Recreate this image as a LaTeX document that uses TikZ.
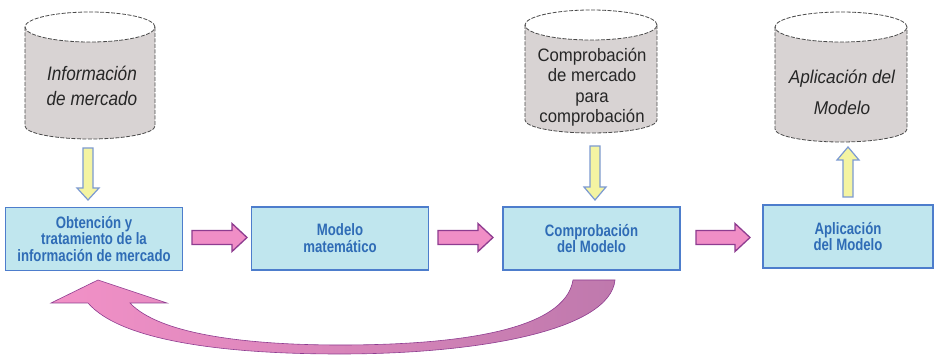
\documentclass[tikz,border=0pt]{standalone}
\usepackage{fontspec}
\setmainfont{Liberation Sans}
\newfontfamily\boxfont[FakeStretch=0.8]{Liberation Sans Bold}
\newfontfamily\cylfontA[FakeStretch=0.88]{Liberation Sans Italic}
\newfontfamily\cylfontB[FakeStretch=0.93]{Liberation Sans}
\newfontfamily\cylfontC[FakeStretch=0.93]{Liberation Sans Italic}
\usetikzlibrary{calc}
\definecolor{boxfill}{HTML}{C0E6EE}
\definecolor{boxline}{HTML}{4D7DCC}
\definecolor{boxtext}{HTML}{2F6CB6}
\definecolor{cylfill}{HTML}{D8D3D3}
\definecolor{cylline}{HTML}{4A4A4A}
\definecolor{pinkfill}{HTML}{F08EC6}
\definecolor{pinkline}{HTML}{8E3C90}
\definecolor{yelfill}{HTML}{F4F4A2}
\definecolor{yelline}{HTML}{7C9AD2}
\definecolor{curveleft}{HTML}{F291C7}
\definecolor{curveright}{HTML}{BF79AD}
\newcommand\mycyl[4]{%
  \fill[cylfill] (#1-#2,#3) rectangle (#1+#2,#4);
  \fill[cylfill] (#1,#4) ellipse [x radius=#2pt, y radius=13pt];
  \fill[white] (#1,#3) ellipse [x radius=#2pt, y radius=15pt];
  \draw[cylborder] (#1,#3) ellipse [x radius=#2pt, y radius=15pt];
  \draw[cylborder] (#1-#2,#3) -- (#1-#2,#4) arc[start angle=180,end angle=360,x radius=#2pt,y radius=13pt] -- (#1+#2,#3);
}
% vertical block arrow: x, tail y, tip y, head base y
\newcommand\myvarrow[4]{%
  \draw[yelarrow] (#1-5,#2) -- (#1-5,#4) -- (#1-11,#4) -- (#1,#3) -- (#1+11,#4) -- (#1+5,#4) -- (#1+5,#2) -- cycle;
}
% horizontal block arrow: tail x, tip x, y
\newcommand\myharrow[3]{%
  \draw[pinkarrow] (#1,#3-7) -- (#2-15,#3-7) -- (#2-15,#3-14) -- (#2,#3) -- (#2-15,#3+14) -- (#2-15,#3+7) -- (#1,#3+7) -- cycle;
}
\begin{document}
\begin{tikzpicture}[x=1pt,y=-1pt,
  stagebox/.style={draw=boxline, line width=1.6pt, fill=boxfill, minimum width=177pt, minimum height=63pt, inner sep=0pt, align=center, text=boxtext, font=\boxfont\fontsize{16.5}{16.8}\selectfont},
  cyltext/.style={align=center, inner sep=0pt, text=black!85},
  cylborder/.style={draw=cylline, line width=0.8pt, dash pattern=on 4pt off 1.5pt},
  yelarrow/.style={draw=yelline, line width=1.2pt, fill=yelfill, line join=miter},
  pinkarrow/.style={draw=pinkline, line width=1.3pt, fill=pinkfill, line join=miter},
]
\useasboundingbox (0,0) rectangle (937,355);
\fill[white] (0,0) rectangle (937,355);

% cylinders
\mycyl{90}{65}{27}{126}
\mycyl{591}{66}{25}{120}
\mycyl{841}{66}{27}{129}

\node[cyltext, font=\cylfontA\fontsize{19.5}{25}\selectfont] (cyl1) at (92,86) {Información\\de mercado};
\node[cyltext, font=\cylfontB\fontsize{18}{20.5}\selectfont] (cyl2) at (592,87) {Comprobación\\de mercado\\para\\comprobación};
\node[cyltext, font=\cylfontC\fontsize{18.5}{31}\selectfont] (cyl3) at (842,92) {Aplicación del\\Modelo};

% boxes
\node[stagebox] (b1) at (94,239) {Obtención y\\tratamiento de la\\información de mercado};
\node[stagebox] (b2) at (340,238.5) {Modelo\\matemático};
\node[stagebox] (b3) at (591.5,238.5) {Comprobación\\del Modelo};
\node[stagebox, minimum width=170pt] (b4) at (848,236.5) {Aplicación\\del Modelo};

% vertical arrows
\myvarrow{88}{148}{200}{188}
\myvarrow{595}{146}{200}{187}
\myvarrow{848}{197}{147}{160}

% horizontal arrows
\myharrow{192}{247}{237.5}
\myharrow{438}{493}{237.5}
\myharrow{696}{750}{237.5}

% curved return arrow
\shade[left color=curveleft, right color=curveright, draw=pinkline, line width=0.6pt]
  (98,280) -- (167,303) -- (130,303)
  .. controls (160,335) and (250,345) .. (340,345)
  .. controls (460,345) and (565,330) .. (573,280)
  -- (615,280)
  .. controls (610,330) and (480,354) .. (340,354)
  .. controls (220,354) and (120,340) .. (88,303)
  -- (51,303) -- cycle;
\end{tikzpicture}
\end{document}
